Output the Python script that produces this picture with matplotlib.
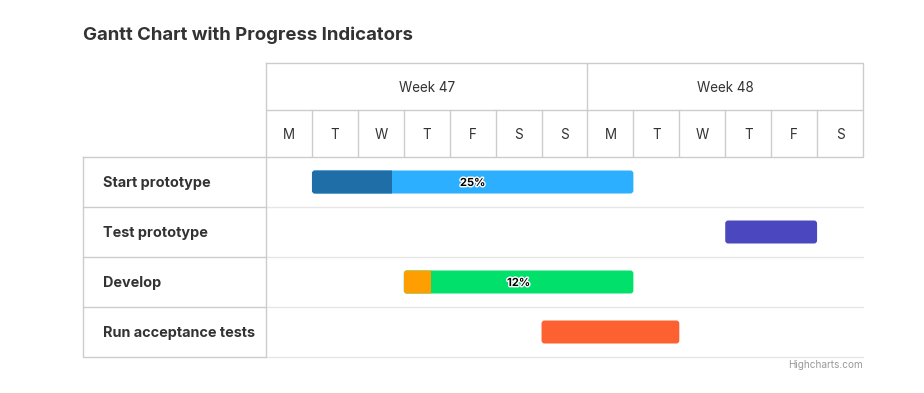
import matplotlib
matplotlib.use("Agg")
import matplotlib.pyplot as plt
from matplotlib.patches import FancyBboxPatch, Rectangle
import matplotlib.patheffects as pe

plt.rcParams['font.family'] = ['Inter', 'DejaVu Sans']

# data
tasks = ['Start prototype', 'Test prototype', 'Develop', 'Run acceptance tests']
start_day = [1, 10, 3, 6]
end_day = [8, 12, 8, 9]
completed = [0.25, None, 0.12, None]
bar_colors = ['#2caffe', '#4b48bf', '#00e06b', '#fe6131']
done_colors = ['#1f6ea8', None, '#ff9e00', None]

day_labels = ['M', 'T', 'W', 'T', 'F', 'S', 'S', 'M', 'T', 'W', 'T', 'F', 'S']
weeks = ['Week 47', 'Week 48']
week_start = [0, 7]
week_end = [7, 13]

W, H = 924, 393
fig = plt.figure(figsize=(W / 100, H / 100), dpi=100)

def box(x0, y0, x1, y1):
    # pixel box (top-left origin) -> figure fraction
    return [x0 / W, 1 - y1 / H, (x1 - x0) / W, (y1 - y0) / H]

border = '#cccccc'
light = '#e6e6e6'
txt = '#333333'

# ---- main chart area ----
ax = fig.add_axes(box(266, 157, 863, 357))
ax.set_xlim(0, len(day_labels))
ax.set_ylim(len(tasks), 0)
ax.axis('off')
for i in range(1, len(tasks) + 1):
    ax.axhline(i, color=light, lw=1, zorder=1, clip_on=False)

asp = (50 / 45.92)  # y-unit px / x-unit px
bh = 0.46
for i, t in enumerate(tasks):
    x0, x1 = start_day[i], end_day[i]
    y0 = i + 0.5 - bh / 2
    p = FancyBboxPatch((x0, y0), x1 - x0, bh,
                       boxstyle="round,pad=0,rounding_size=0.065",
                       mutation_aspect=1 / asp, fc=bar_colors[i], ec='none', zorder=2)
    ax.add_patch(p)
    if completed[i] is not None:
        d = FancyBboxPatch((x0, y0), x1 - x0, bh,
                           boxstyle="round,pad=0,rounding_size=0.065",
                           mutation_aspect=1 / asp, fc=done_colors[i], ec='none', zorder=3)
        ax.add_patch(d)
        clip = Rectangle((x0, y0 - 0.1), (x1 - x0) * completed[i], bh + 0.2,
                         transform=ax.transData)
        d.set_clip_path(clip)
        ax.text((x0 + x1) / 2, i + 0.5, f"{int(round(completed[i] * 100))}%",
                ha='center', va='center_baseline', fontsize=8, fontweight='bold', color='black',
                zorder=4,
                path_effects=[pe.withStroke(linewidth=2, foreground='white')])

# ---- header ----
axh = fig.add_axes(box(266, 63, 863, 157))
axh.set_xlim(0, len(day_labels))
axh.set_ylim(2, 0)
axh.axis('off')
n = len(day_labels)
axh.plot([0, n, n, 0, 0], [0, 0, 2, 2, 0], color=border, lw=1, clip_on=False)
axh.plot([0, n], [1, 1], color=border, lw=1)
for k in range(1, n):
    axh.plot([k, k], [1, 2], color=border, lw=1)
for k, lab in enumerate(day_labels):
    axh.text(k + 0.5, 1.5, lab, ha='center', va='center_baseline', fontsize=9.7, color=txt)
for w, s, e in zip(weeks, week_start, week_end):
    if s > 0:
        axh.plot([s, s], [0, 1], color=border, lw=1)
    axh.text((s + e) / 2, 0.5, w, ha='center', va='center_baseline', fontsize=9.7, color=txt)

# ---- left table ----
axl = fig.add_axes(box(83, 157, 266, 357))
axl.set_xlim(0, 1)
axl.set_ylim(len(tasks), 0)
axl.axis('off')
axl.plot([0, 1, 1, 0, 0], [0, 0, len(tasks), len(tasks), 0], color=border, lw=1, clip_on=False)
for i, t in enumerate(tasks):
    if i > 0:
        axl.plot([0, 1], [i, i], color=border, lw=1)
    axl.text(20 / 183, i + 0.5, t, ha='left', va='center_baseline', fontsize=10.4,
             fontweight='bold', color=txt)

# ---- title & credits ----
fig.text(83 / W, 1 - 33 / H, 'Gantt Chart with Progress Indicators', ha='left',
         va='center_baseline', fontsize=13.4, fontweight='bold', color=txt)
fig.text(863 / W, 1 - 364 / H, 'Highcharts.com', ha='right', va='center_baseline',
         fontsize=7.2, color='#999999')

fig.savefig('out.png', dpi=100, facecolor='white')
